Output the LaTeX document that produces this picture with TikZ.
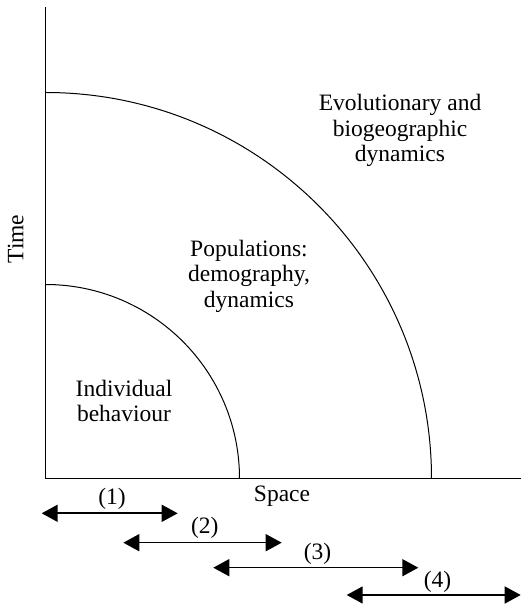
\documentclass[tikz,border=0pt]{standalone}
\usepackage{fontspec}
\setmainfont{Liberation Serif}
\usetikzlibrary{arrows.meta}
\begin{document}
\begin{tikzpicture}[x=1pt,y=1pt,
  axis/.style={line width=1.2pt},
  zone/.style={line width=1pt},
  spanarrow/.style={line width=1.6pt,{Triangle[length=16pt,width=17pt]}-{Triangle[length=16pt,width=17pt]}},
  lbl/.style={font=\fontsize{23.5}{25.5}\selectfont, inner sep=0pt, align=center}]
\useasboundingbox (0,0) rectangle (521,605);
% axes
\coordinate (O) at (45.5,126.5);
\coordinate (T) at (45.5,598);
\coordinate (R) at (520.5,126.5);
\draw[axis] (T) -- (O) -- (R);
% zones
\coordinate (s1) at (239.5,126.5);
\coordinate (s2) at (431.5,126.5);
\draw[zone] (s1) arc[start angle=0,end angle=90,radius=194];
\draw[zone] (s2) arc[start angle=0,end angle=90,radius=386];
% axis labels
\node[lbl, anchor=base] (space) at (282,103.3) {Space};
\node[lbl, rotate=90, anchor=base] (time) at (23.3,366) {Time};
% zone labels
\node[lbl] (indiv) at (124,204) {Individual\\behaviour};
\node[lbl] (pop) at (249,329) {Populations:\\demography,\\dynamics};
\node[lbl] (evo) at (400,474.5) {Evolutionary and\\biogeographic\\dynamics};
% ranges
\coordinate (a1) at (41.7,91.7);  \coordinate (b1) at (177.7,91.7);
\coordinate (a2) at (123.3,62.3); \coordinate (b2) at (281.7,62.3);
\coordinate (a3) at (213.3,37.3); \coordinate (b3) at (418.3,37.3);
\coordinate (a4) at (346.7,10);   \coordinate (b4) at (520.7,10);
\draw[spanarrow] (a1) -- (b1);
\draw[spanarrow] (a2) -- (b2);
\draw[spanarrow] (a3) -- (b3);
\draw[spanarrow] (a4) -- (b4);
\node[lbl] (l1) at (112,106) {(1)};
\node[lbl] (l2) at (204.7,77.5) {(2)};
\node[lbl] (l3) at (317.5,51) {(3)};
\node[lbl] (l4) at (437.5,23.3) {(4)};
\end{tikzpicture}
\end{document}
